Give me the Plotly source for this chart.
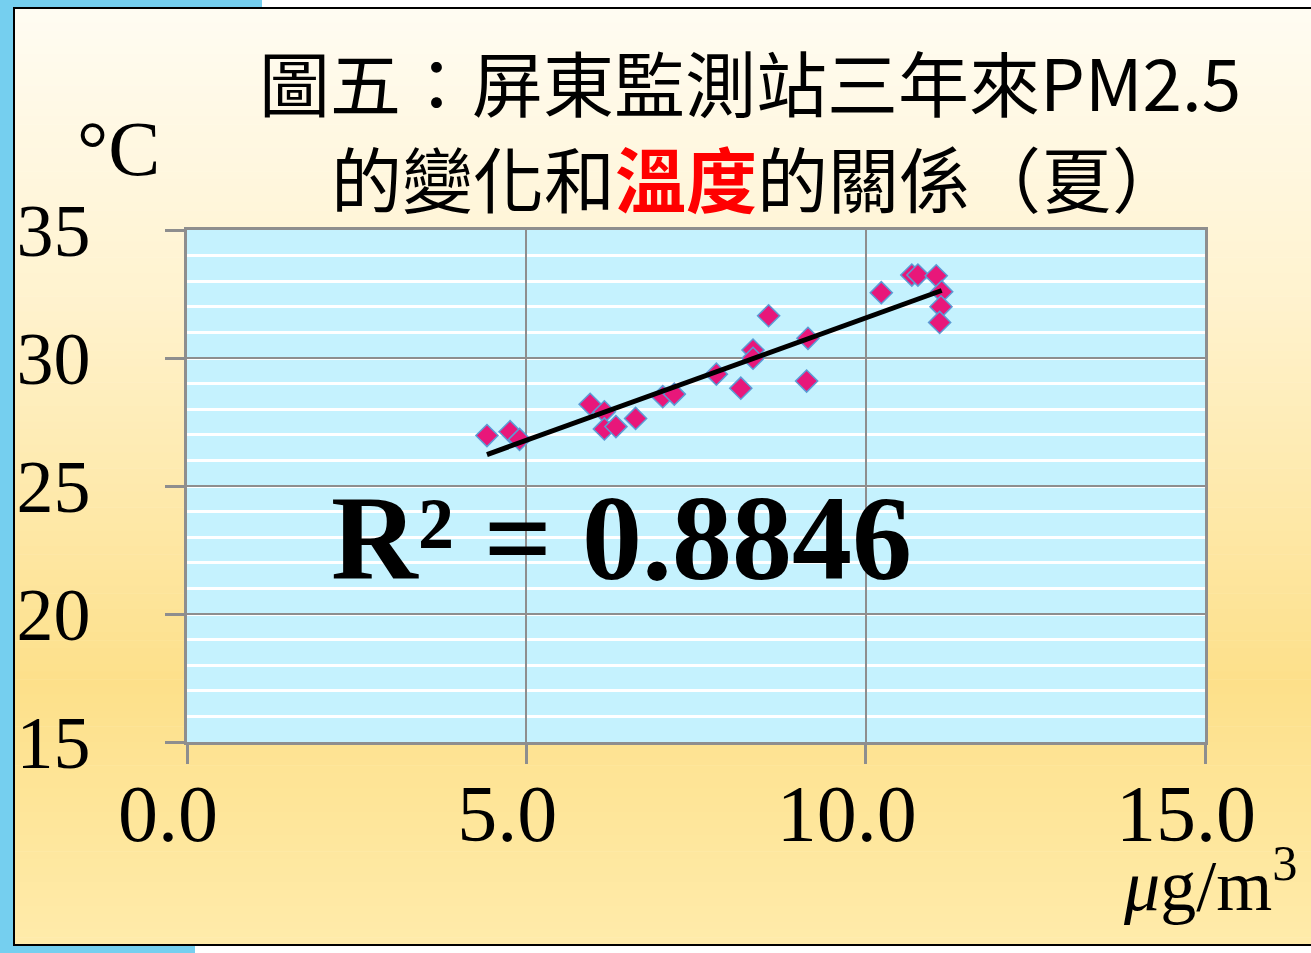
import numpy as np
import plotly.graph_objects as go

# PM2.5 concentration (μg/m³) and summer temperature (°C) at Pingtung station
pm25 = [4.42, 4.76, 4.90, 5.94, 6.15, 6.15, 6.32, 6.61, 7.01, 7.18, 7.80, 8.16,
        8.34, 8.34, 8.57, 9.15, 9.13, 10.23, 10.68, 10.77, 11.04, 11.12, 11.11, 11.09]
temp = [26.97, 27.12, 26.82, 28.19, 27.90, 27.23, 27.32, 27.64, 28.49, 28.59, 29.37, 28.82,
        30.31, 29.99, 31.65, 30.77, 29.10, 32.55, 33.24, 33.24, 33.21, 32.59, 32.00, 31.39]

x_ticks = [0, 5, 10, 15]
x_tick_labels = ["0.0", "5.0", "10.0", "15.0"]
y_ticks = [15, 20, 25, 30, 35]
y_tick_labels = ["15", "20", "25", "30", "35"]
r_squared_text = "0.8846"

W, H = 1311, 953
L, R, T, B = 187, 1205, 230, 742  # plot area in pixels


def px(x):
    return (x - L) / (R - L)


def py(y):
    return (B - y) / (B - T)


# linear trend line
slope, intercept = np.polyfit(pm25, temp, 1)
fit_x = np.array([min(pm25), max(pm25)])
fit_y = slope * fit_x + intercept

fig = go.Figure()
fig.add_trace(go.Scatter(
    x=pm25, y=temp, mode="markers",
    marker=dict(symbol="diamond", size=17, color="#E8177A",
                line=dict(color="#5B9BD5", width=1.5)),
    showlegend=False, hoverinfo="x+y"))
fig.add_trace(go.Scatter(
    x=fit_x, y=fit_y, mode="lines",
    line=dict(color="black", width=5),
    showlegend=False, hoverinfo="skip"))

shapes = []
# slide-style vertical gradient background
stops = [(0.0, (255, 252, 242)), (0.30, (255, 243, 208)), (0.72, (253, 224, 138)),
         (1.0, (255, 235, 170))]


def grad(t):
    for (t0, c0), (t1, c1) in zip(stops[:-1], stops[1:]):
        if t <= t1:
            f = (t - t0) / (t1 - t0)
            return "rgb(%d,%d,%d)" % tuple(round(a + (b - a) * f) for a, b in zip(c0, c1))
    return "rgb(%d,%d,%d)" % stops[-1][1]


n = 120
top, bot = 7, 945
for i in range(n):
    y0 = top + (bot - top) * i / n
    y1 = top + (bot - top) * (i + 1) / n + 0.6
    shapes.append(dict(type="rect", xref="paper", yref="paper", layer="below",
                       x0=px(13), x1=px(W + 10), y0=py(y0), y1=py(y1),
                       fillcolor=grad((i + 0.5) / n), line_width=0))
# frame border
shapes.append(dict(type="rect", xref="paper", yref="paper", layer="below",
                   x0=px(14), x1=px(W + 10), y0=py(8), y1=py(945),
                   fillcolor="rgba(0,0,0,0)", line=dict(color="black", width=2)))
# blue edge strips
for (x0, y0, x1, y1) in [(0, 0, 13, H), (0, 0, 262, 7), (0, 946, 195, H)]:
    shapes.append(dict(type="rect", xref="paper", yref="paper", layer="below",
                       x0=px(x0), x1=px(x1), y0=py(y0), y1=py(y1),
                       fillcolor="#75CFEF", line_width=0))
# plot area fill
shapes.append(dict(type="rect", xref="paper", yref="paper", layer="below",
                   x0=0, x1=1, y0=0, y1=1, fillcolor="#C5F2FE", line_width=0))

serif = "Liberation Serif"
cjk = "Noto Sans CJK TC"

annotations = [
    dict(text="圖五：屏東監測站三年來PM2.5", x=px(750), y=py(80), xref="paper", yref="paper",
         showarrow=False, xanchor="center", yanchor="middle",
         font=dict(family=cjk, size=71, color="black")),
    dict(text="的變化和<span style='color:#FF0000'><b>溫度</b></span>的關係（夏）",
         x=px(757), y=py(176), xref="paper", yref="paper",
         showarrow=False, xanchor="center", yanchor="middle",
         font=dict(family=cjk, size=71, color="black")),
    dict(text="°C", x=px(118), y=py(148), xref="paper", yref="paper",
         showarrow=False, xanchor="center", yanchor="middle",
         font=dict(family=serif, size=78, color="black")),
    dict(text="<i>μ</i>g/m<sup>3</sup>", x=px(1210), y=py(880), xref="paper", yref="paper",
         showarrow=False, xanchor="center", yanchor="middle",
         font=dict(family=serif, size=72, color="black")),
    dict(text="R² = " + r_squared_text, x=px(621), y=py(538), xref="paper", yref="paper",
         showarrow=False, xanchor="center", yanchor="middle",
         font=dict(family=serif, size=120, color="black", weight="bold")),
]

axis_common = dict(showline=True, linecolor="#8E8E8E", linewidth=2.5, mirror=True,
                   ticks="outside", ticklen=19, tickwidth=2.5, tickcolor="#8E8E8E",
                   gridcolor="#8E8E8E", gridwidth=2, zeroline=False, automargin=False)

fig.update_layout(
    width=W, height=H,
    margin=dict(l=L, r=W - R, t=T, b=H - B),
    paper_bgcolor="white", plot_bgcolor="rgba(0,0,0,0)",
    shapes=shapes, annotations=annotations,
    xaxis=dict(range=[0, 15], tickvals=x_ticks, ticktext=x_tick_labels,
               ticklabelstandoff=-19, ticklabelshift=-19,
               tickfont=dict(family=serif, size=80, color="black"), **axis_common),
    yaxis=dict(range=[15, 35], tickvals=y_ticks, ticktext=y_tick_labels,
               ticklabelstandoff=60,
               tickfont=dict(family=serif, size=74, color="black"),
               minor=dict(dtick=1, showgrid=True, gridcolor="white", gridwidth=2.5,
                          ticks=""),
               **axis_common),
)

fig.write_html("out.html")
